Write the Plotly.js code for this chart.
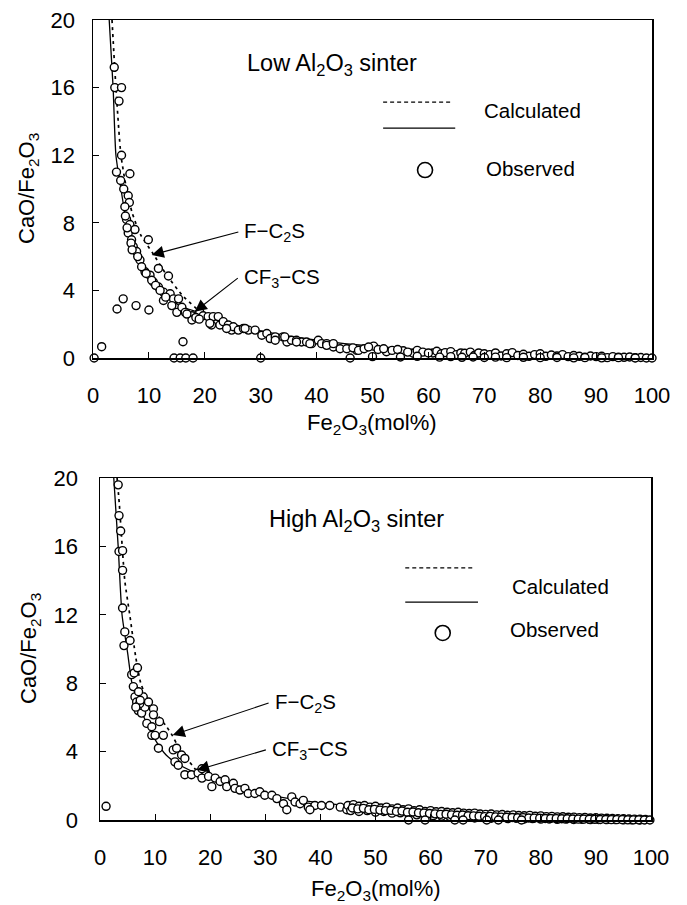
<!DOCTYPE html>
<html>
<head>
<meta charset="utf-8">
<script src="https://cdn.plot.ly/plotly-3.0.1.min.js"></script>
<style>html,body{margin:0;padding:0;background:#fff;}#chart{width:687px;height:905px;}</style>
</head>
<body>
<div id="chart"></div>
<script>
// ---------- Low Al2O3 sinter (top panel) ----------
const lowObsX = [0.2,1.55,4.3,5.4,7.7,10.0,16.1,14.5,15.6,16.6,17.9,30.0,46.0,
  3.8,3.9,5.1,4.65,5.1,4.2,4.95,6.6,5.5,6.3,6.5,5.7,6.0,6.6,6.3,7.5,6.9,7.2,7.8,9.9,8.4,9.3,10.2,10.8,11.7,11.7,13.5,12.6,12.6,13.8,14.4,15.3,14.1,15.0,15.9,16.5,17.7,17.7,19.1,19.7,20.6,21.5,22.4,21.2,22.7,23.3,24.2,24.8,25.1,26.0,26.9,27.8,29.0,30.2,31.1,31.7,32.6,34.0,34.7,35.5,36.4,37.3,38.2,39.1,40.3,40.9,41.8,43.0,44.2,45.4,
  20.9,23.9,27.2,32.6,34.3,36.4,38.8,41.8,43.0,47.2,50.2,52.5,55.5,57.3,60.8,
  5.8,6.1,6.8,7.0,8.0,8.7,9.5,10.5,11.2,12.0,13.0,16.8,18.4,19.0,
  46.5,47.5,48.5,49.3,51,52,53.5,54.5,56.3,58,59,60,61.5,62.3,63,64,65,65.8,66.5,67.5,68.2,69,70,71,72,73,74,75,76,77,78,79,80,81,82,83,84,85,86,87,88,89,90,91,92,93,94,95,96,97,98,99,100,
  50,55,58,62,64,66,68,70,72,74,77,80,83,86,88,91,94,97];
const lowObsY = [0,0.67,2.9,3.5,3.1,2.84,0.96,0,0,0,0,0,0,
  17.2,16.0,16.0,15.2,12.0,11.0,10.5,10.9,10.0,9.6,9.2,8.95,8.2,7.9,7.4,7.6,7.0,6.6,6.3,7.0,5.8,5.1,4.9,4.5,4.2,5.3,4.85,3.9,3.4,3.8,3.5,3.5,3.1,2.7,3.0,2.7,2.5,2.25,2.7,2.5,2.45,2.45,2.45,1.95,1.95,2.15,1.95,1.65,1.85,1.65,1.75,1.65,1.65,1.35,1.45,1.15,1.25,1.25,0.95,1.05,1.05,0.95,0.95,0.85,1.05,0.85,0.85,0.65,0.55,0.55,
  2.05,1.75,1.75,1.05,1.25,0.95,0.85,0.75,0.85,0.45,0.7,0.37,0.43,0.28,0.3,
  8.4,7.7,6.8,6.4,6.0,5.4,5.0,4.6,4.3,4.0,3.6,2.6,2.4,2.3,
  0.6,0.45,0.55,0.65,0.5,0.55,0.45,0.5,0.35,0.45,0.35,0.3,0.4,0.25,0.32,0.38,0.2,0.3,0.28,0.35,0.15,0.3,0.25,0.2,0.3,0.12,0.25,0.32,0.15,0.22,0.1,0.2,0.25,0.1,0.18,0.12,0.2,0.08,0.15,0.1,0.05,0.12,0.08,0.1,0.02,0.08,0.05,0.04,0.06,0.02,0.03,0.0,0.0,
  0.08,0.06,0.1,0.05,0.08,0.04,0.06,0.03,0.05,0.02,0.04,0.02,0.03,0.01,0.02,0.01,0.02,0.0];
const lowSolidX = [2.9,3.6,4.1,5,6,7,8,10,12,15,17,19,20,25,30,35,40,45,50,60,70,80,90,100];
const lowSolidY = [20,16,12,10,8,6.7,5.8,4.6,3.9,3.2,2.9,2.7,2.5,2.0,1.6,1.3,1.05,0.85,0.7,0.45,0.3,0.2,0.1,0];
const lowDashX = [3.4,4.1,5.0,6.0,7.0,8.5,10.7,13,16,19.1];
const lowDashY = [20,16,12,10,8.6,7.3,6.2,5.0,3.7,2.75];

// ---------- High Al2O3 sinter (bottom panel) ----------
const highObsX = [1.1,3.3,3.45,3.75,3.45,4.1,4.1,4.1,4.5,4.35,5.45,5.75,6.2,6.8,6.05,6.35,6.65,6.95,7.55,7.85,8.15,8.8,8.5,9.4,9.7,9.4,10.0,9.7,10.8,10.6,11.5,13.3,13.9,13.6,14.8,15.4,14.2,15.4,16.6,17.8,18.5,19.7,20.3,20.9,21.8,22.7,23.0,24.2,24.5,25.4,26.3,26.9,28.1,29.0,29.9,31.2,32.1,33.3,33.9,34.8,35.4,36.3,36.9,37.8,39.0,40.2,41.7,43.6,44.8,38.1,18.5,7.2,7.0,6.5,7.3,
  45,46,47,48,49,50,51,52,53,54,55,56,57,58,59,60,61,62,63,64,65,66,67,68,69,70,71,72,73,74,75,76,77,78,79,80,81,82,83,84,85,86,87,88,89,90,91,92,93,94,95,96,97,98,99,
  45.5,47,48.5,50,51.5,53,54.5,56,57.5,59,60.5,62,63.5,65,66.5,68,69.5,71,72.5,74,75.5,77,78.5,80,81.5,83,84.5,86,87.5,89,90.5,92,93.5,95,96.5,98,
  45.8,46.8,47.8,48.8,49.8,50.8,51.8,52.8,53.8,54.8,55.8,56.8,57.8,58.8,59.8,60.8,61.8,62.8,63.8,64.8,65.8,66.8,67.8,68.8,69.8,70.8,71.8,72.8,73.8,74.8,75.8,76.8,77.8,78.8,79.8,80.8,81.8,82.8,83.8,84.8,85.8,86.8,87.8,88.8,89.8,90.8,91.8,92.8,93.8,94.8,95.8,96.8,97.8,98.8,
  56.0,59.0,64.4,65.9,70.2,72.3,76.5,99.8];
const highObsY = [0.8,19.6,17.8,16.9,15.7,15.75,14.6,12.4,11.0,10.2,10.5,8.5,8.6,8.9,7.8,7.2,6.9,6.4,6.25,7.2,6.6,6.9,5.65,5.45,6.5,4.95,4.95,6.15,5.75,4.2,4.95,4.1,4.2,3.4,3.8,3.6,3.2,2.65,2.65,2.75,2.45,2.55,1.95,2.45,2.25,2.35,1.95,2.15,1.85,1.75,1.85,1.55,1.55,1.65,1.45,1.45,1.25,0.95,0.6,1.35,1.05,0.95,1.15,0.75,0.85,0.85,0.85,0.75,0.6,0.6,3.0,6.8,7.5,6.6,7.0,
  0.85,0.9,0.8,0.85,0.75,0.8,0.7,0.75,0.65,0.7,0.6,0.65,0.55,0.6,0.5,0.55,0.48,0.5,0.45,0.42,0.45,0.4,0.38,0.4,0.35,0.33,0.35,0.3,0.32,0.28,0.3,0.26,0.25,0.27,0.22,0.24,0.2,0.21,0.18,0.19,0.16,0.17,0.14,0.15,0.12,0.13,0.11,0.1,0.09,0.08,0.07,0.06,0.05,0.04,0.03,
  0.55,0.5,0.55,0.45,0.5,0.4,0.42,0.35,0.3,0.3,0.25,0.22,0.2,0.15,0.18,0.12,0.15,0.1,0.12,0.08,0.1,0.06,0.08,0.05,0.06,0.04,0.05,0.03,0.04,0.02,0.03,0.02,0.02,0.01,0.01,0.0,
  0.7,0.65,0.68,0.6,0.62,0.58,0.55,0.56,0.5,0.52,0.45,0.47,0.42,0.4,0.38,0.36,0.33,0.34,0.3,0.28,0.29,0.25,0.24,0.22,0.2,0.21,0.18,0.17,0.16,0.15,0.13,0.14,0.12,0.11,0.1,0.09,0.09,0.08,0.07,0.07,0.06,0.05,0.05,0.04,0.04,0.03,0.03,0.02,0.02,0.02,0.01,0.01,0.01,0.0,
  0,0,0,0,0,0,0,0];
const highSolidX = [2.5,3.3,4.0,5,5.8,7,8,10,12,14,17,20,25,30,40,50,60,70,80,90,100];
const highSolidY = [20,16,12,9.8,8,6.8,6,4.7,3.8,3.3,2.8,2.4,1.9,1.5,1.0,0.7,0.45,0.3,0.18,0.08,0];
const highDashX = [3.1,3.5,4.5,5.4,6.5,7.4,9,10,12,13.2,14,16,17.6];
const highDashY = [20,18.5,14,12,9.5,8,6.8,6.3,5.5,4.9,4.4,3.5,2.85];

const xTicks = [0,10,20,30,40,50,60,70,80,90,100];
const yTicks = [0,4,8,12,16,20];

const FONT = 'Liberation Sans, Arial, Helvetica, sans-serif';

function obsTrace(x, y, xa, ya) {
  return {x: x, y: y, xaxis: xa, yaxis: ya, type: 'scatter', mode: 'markers', cliponaxis: false,
    marker: {symbol: 'circle', size: 8, color: '#fff', line: {color: '#000', width: 1.4}}, showlegend: false, hoverinfo: 'skip'};
}
function lineTrace(x, y, xa, ya, dash) {
  return {x: x, y: y, xaxis: xa, yaxis: ya, type: 'scatter', mode: 'lines', cliponaxis: true,
    line: {color: '#000', width: dash ? 1.7 : 1.3, dash: dash ? '3px,4px' : 'solid', shape: 'spline', smoothing: 0.6}, showlegend: false, hoverinfo: 'skip'};
}

const data = [
  lineTrace(lowSolidX, lowSolidY, 'x', 'y', false),
  lineTrace(lowDashX, lowDashY, 'x', 'y', true),
  obsTrace(lowObsX, lowObsY, 'x', 'y'),
  lineTrace(highSolidX, highSolidY, 'x2', 'y2', false),
  lineTrace(highDashX, highDashY, 'x2', 'y2', true),
  obsTrace(highObsX, highObsY, 'x2', 'y2')
];

function xAx(domain, anchor) {
  return {domain: domain, anchor: anchor, range: [0, 100], tickvals: xTicks, ticktext: xTicks.map(String),
    ticks: 'inside', ticklen: 6, tickwidth: 1, tickcolor: '#000', showline: true, linecolor: '#000', linewidth: 1.5,
    mirror: true, showgrid: false, zeroline: false, ticklabelstandoff: 17,
    tickfont: {family: FONT, size: 22, color: '#000'}, fixedrange: true};
}
function yAx(domain, anchor, standoff) {
  return {domain: domain, anchor: anchor, range: [0, 20], tickvals: yTicks, ticktext: yTicks.map(String),
    ticks: 'inside', ticklen: 6, tickwidth: 1, tickcolor: '#000', showline: true, linecolor: '#000', linewidth: 1.5,
    mirror: true, showgrid: false, zeroline: false, ticklabelstandoff: standoff,
    tickfont: {family: FONT, size: 22, color: '#000'}, fixedrange: true};
}

const txt = (sz) => ({family: FONT, size: sz, color: '#000'});
const annotations = [];
const shapes = [];

function panel(xa, ya, o) {
  const xr = xa + ' domain', yr = ya + ' domain';
  annotations.push({xref: xr, yref: yr, x: o.titleX, y: o.titleY, xanchor: 'left', yanchor: 'middle', showarrow: false,
    text: o.title, font: txt(23.5)});
  annotations.push({xref: xr, yref: yr, x: o.calcX, y: o.calcY, xanchor: 'left', yanchor: 'middle', showarrow: false,
    text: 'Calculated', font: txt(20.5)});
  annotations.push({xref: xr, yref: yr, x: o.obsX, y: o.obsY, xanchor: 'left', yanchor: 'middle', showarrow: false,
    text: 'Observed', font: txt(20.5)});
  shapes.push({type: 'line', xref: xr, yref: yr, x0: o.dash[0], x1: o.dash[1], y0: o.dash[2], y1: o.dash[2],
    line: {color: '#000', width: 1.2, dash: '4px,3px'}});
  shapes.push({type: 'line', xref: xr, yref: yr, x0: o.solid[0], x1: o.solid[1], y0: o.solid[2], y1: o.solid[2],
    line: {color: '#000', width: 1.2}});
  shapes.push({type: 'circle', xref: xr, yref: yr, xsizemode: 'pixel', ysizemode: 'pixel',
    xanchor: o.circ[0], yanchor: o.circ[1], x0: -7.5, x1: 7.5, y0: -7.5, y1: 7.5,
    line: {color: '#000', width: 1.6}, fillcolor: 'rgba(0,0,0,0)'});
  // labelled arrows: text placed at the tail, arrow pointing to the curve
  o.arrows.forEach(a => {
    annotations.push({xref: xa, yref: ya, axref: xa, ayref: ya, x: a.hx, y: a.hy, ax: a.lx, ay: a.ly,
      xanchor: 'left', yanchor: 'middle', borderpad: 5,
      text: a.label, font: txt(20.5), showarrow: true, arrowhead: 2, arrowsize: 2.2, arrowwidth: 1.1, arrowcolor: '#000', standoff: 0});
  });
}

panel('x', 'y', {
  title: 'Low Al<sub>2</sub>O<sub>3</sub> sinter', titleX: 0.272, titleY: 0.867,
  calcX: 0.696, calcY: 0.731, obsX: 0.700, obsY: 0.562,
  dash: [0.519, 0.642, 0.757], solid: [0.519, 0.648, 0.680], circ: [0.594, 0.556],
  arrows: [
    {hx: 10.5, hy: 6.1, lx: 26.0, ly: 7.46, label: 'F\u2212C<sub>2</sub>S'},
    {hx: 18.2, hy: 2.74, lx: 25.9, ly: 4.73, label: 'CF<sub>3</sub>\u2212CS'}
  ]
});
panel('x2', 'y2', {
  title: 'High Al<sub>2</sub>O<sub>3</sub> sinter', titleX: 0.303, titleY: 0.877,
  calcX: 0.744, calcY: 0.684, obsX: 0.740, obsY: 0.558,
  dash: [0.554, 0.681, 0.737], solid: [0.554, 0.686, 0.637], circ: [0.622, 0.547],
  arrows: [
    {hx: 13.2, hy: 4.97, lx: 30.6, ly: 6.84, label: 'F\u2212C<sub>2</sub>S'},
    {hx: 17.6, hy: 2.92, lx: 30.1, ly: 4.1, label: 'CF<sub>3</sub>\u2212CS'}
  ]
});

// axis titles
annotations.push({xref: 'paper', yref: 'paper', x: 372/687, y: 1 - 424/905, xanchor: 'center', yanchor: 'middle', showarrow: false,
  text: 'Fe<sub>2</sub>O<sub>3</sub>(mol%)', font: txt(22)});
annotations.push({xref: 'paper', yref: 'paper', x: 375.5/687, y: 1 - 890/905, xanchor: 'center', yanchor: 'middle', showarrow: false,
  text: 'Fe<sub>2</sub>O<sub>3</sub>(mol%)', font: txt(22)});
annotations.push({xref: 'paper', yref: 'paper', x: 28/687, y: 1 - 189/905, xanchor: 'center', yanchor: 'middle', showarrow: false,
  textangle: -90, text: 'CaO/Fe<sub>2</sub>O<sub>3</sub>', font: txt(22)});
annotations.push({xref: 'paper', yref: 'paper', x: 30/687, y: 1 - 649/905, xanchor: 'center', yanchor: 'middle', showarrow: false,
  textangle: -90, text: 'CaO/Fe<sub>2</sub>O<sub>3</sub>', font: txt(22)});

const layout = {
  width: 687, height: 905,
  margin: {l: 0, r: 0, t: 0, b: 0},
  paper_bgcolor: '#fff', plot_bgcolor: '#fff',
  showlegend: false,
  font: {family: FONT, color: '#000'},
  xaxis: xAx([93/687, 652/687], 'y'),
  yaxis: yAx([1 - 358/905, 1 - 20/905], 'x', 12),
  xaxis2: xAx([100/687, 651/687], 'y2'),
  yaxis2: yAx([1 - 820/905, 1 - 478/905], 'x2', 16),
  annotations: annotations,
  shapes: shapes
};

Plotly.newPlot('chart', data, layout, {displayModeBar: false, staticPlot: true});
</script>
</body>
</html>
